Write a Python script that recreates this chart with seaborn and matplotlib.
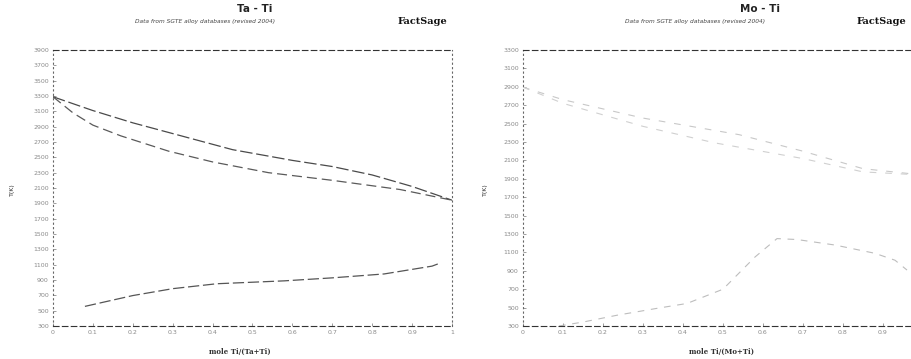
import numpy as np
import pandas as pd
import matplotlib
matplotlib.use('Agg')
import matplotlib.pyplot as plt
import seaborn as sns

# ---- data ----
# Ta - Ti  (x = mole Ti/(Ta+Ti), T in K)
tati_liq_x = [0, 0.1, 0.2, 0.3, 0.45, 0.6, 0.7, 0.8, 0.9, 1.0]
tati_liq_t = [3290, 3110, 2950, 2810, 2600, 2460, 2380, 2270, 2120, 1941]
tati_sol_x = [0, 0.05, 0.1, 0.17, 0.29, 0.4, 0.54, 0.7, 0.87, 1.0]
tati_sol_t = [3290, 3080, 2920, 2780, 2580, 2440, 2300, 2200, 2080, 1941]
tati_bcc_x = [0.08, 0.2, 0.3, 0.41, 0.58, 0.7, 0.83, 0.95, 0.97]
tati_bcc_t = [556, 697, 787, 851, 889, 928, 979, 1081, 1120]

# Mo - Ti  (x = mole Ti/(Mo+Ti), T in K)
moti_liq_x = [0, 0.1, 0.3, 0.54, 0.7, 0.85, 1.0]
moti_liq_t = [2896, 2760, 2560, 2380, 2200, 2010, 1941]
moti_sol_x = [0, 0.1, 0.3, 0.48, 0.7, 0.85, 1.0]
moti_sol_t = [2896, 2720, 2470, 2290, 2120, 1975, 1941]
moti_gap_x = [0.09, 0.15, 0.235, 0.335, 0.41, 0.5, 0.58, 0.635, 0.685, 0.78, 0.88, 0.93, 0.96]
moti_gap_t = [300, 343, 417, 492, 545, 700, 1050, 1250, 1240, 1180, 1090, 1015, 908]

x_ticks = [0, 0.1, 0.2, 0.3, 0.4, 0.5, 0.6, 0.7, 0.8, 0.9, 1.0]
tati_yticks = list(range(300, 3901, 200))
moti_yticks = list(range(300, 3301, 200))

sns.set_theme(style='white')
plt.rcParams['font.family'] = ['DejaVu Sans']

W, H = 912, 359
fig = plt.figure(figsize=(W / 100, H / 100), dpi=100)
ax1 = fig.add_axes([53 / W, 33 / H, 399 / W, 276 / H])
ax2 = fig.add_axes([523 / W, 33 / H, 400 / W, 276 / H])


def draw_curve(ax, xs, ts, color, ls, lw=0.8):
    df = pd.DataFrame({'x': xs, 'T': ts})
    sns.lineplot(data=df, x='x', y='T', ax=ax, sort=False, estimator=None,
                 color=color, linestyle=ls, linewidth=lw)


def style_axes(ax, ylim, yticks, last_xlabel=True):
    ax.set_xlim(0, 1)
    ax.set_ylim(*ylim)
    ax.set_xticks(x_ticks)
    labels = [('%g' % v) for v in x_ticks]
    if not last_xlabel:
        labels[-1] = ''
    ax.set_xticklabels(labels)
    ax.set_yticks(yticks)
    ax.set_yticklabels([str(v) for v in yticks])
    ax.tick_params(axis='both', labelsize=4.5, labelcolor='#8a8a8a', length=2,
                   width=0.5, color='#777777', direction='in', pad=3,
                   left=True, bottom=True)
    ax.set_xlabel('')
    ax.set_ylabel('')
    for side in ['top', 'bottom']:
        ax.spines[side].set_linestyle((0, (5, 3)))
        ax.spines[side].set_color('#333333')
        ax.spines[side].set_linewidth(0.8)
    for side in ['left', 'right']:
        ax.spines[side].set_linestyle((0, (1, 3)))
        ax.spines[side].set_color('#666666')
        ax.spines[side].set_linewidth(0.8)


# left panel
draw_curve(ax1, tati_liq_x, tati_liq_t, '#4a4a4a', (0, (10, 3)), 0.9)
draw_curve(ax1, tati_sol_x, tati_sol_t, '#5a5a5a', (0, (8, 4)), 0.9)
draw_curve(ax1, tati_bcc_x, tati_bcc_t, '#555555', (0, (9, 3)), 0.9)
style_axes(ax1, (300, 3900), tati_yticks)

# right panel (faint in the reference, runs past the right edge)
draw_curve(ax2, moti_liq_x, moti_liq_t, '#c8c8c8', (0, (6, 8)), 0.8)
draw_curve(ax2, moti_sol_x, moti_sol_t, '#d0d0d0', (0, (6, 8)), 0.8)
draw_curve(ax2, moti_gap_x, moti_gap_t, '#bdbdbd', (0, (6, 6)), 0.8)
style_axes(ax2, (300, 3300), moti_yticks, last_xlabel=False)

# titles and annotations
for cx, title, sub_x, logo_x in [(255, 'Ta - Ti', 205, 422), (760, 'Mo - Ti', 695, 881)]:
    fig.text(cx / W, 1 - 9 / H, title, ha='center', va='center',
             fontsize=7.5, fontweight='bold', color='#222222')
    fig.text(sub_x / W, 1 - 22 / H, 'Data from SGTE alloy databases (revised 2004)',
             ha='center', va='center', fontsize=4.2, style='italic', color='#444444')
    fig.text(logo_x / W, 1 - 21 / H, 'FactSage', ha='center', va='center',
             fontsize=7, fontweight='bold', family='DejaVu Serif', color='#111111')

fig.text(12 / W, 1 - 190 / H, 'T(K)', rotation=90, ha='center', va='center',
         fontsize=4.5, color='#333333')
fig.text(485 / W, 1 - 190 / H, 'T(K)', rotation=90, ha='center', va='center',
         fontsize=4.5, color='#333333')
fig.text(240 / W, 1 - 352 / H, 'mole Ti/(Ta+Ti)', ha='center', va='center',
         fontsize=5, family='DejaVu Serif', fontweight='bold', color='#333333')
fig.text(722 / W, 1 - 352 / H, 'mole Ti/(Mo+Ti)', ha='center', va='center',
         fontsize=5, family='DejaVu Serif', fontweight='bold', color='#333333')

fig.savefig('out.png', dpi=100)
